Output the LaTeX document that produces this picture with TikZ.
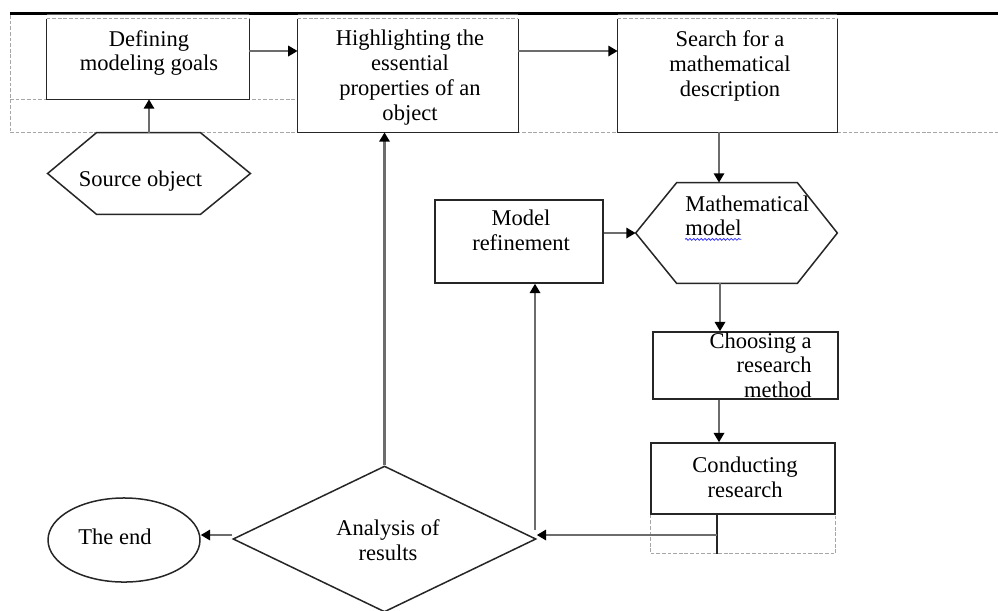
\documentclass[tikz,border=0pt]{standalone}
\usepackage{fontspec}
\setmainfont{Liberation Serif}
\usetikzlibrary{positioning, arrows.meta, shapes.geometric, calc, decorations.pathmorphing}

\begin{document}
\begin{tikzpicture}
    [
        x=0.533pt, y=-0.533pt,
        cell_node/.style={rectangle, inner sep=0pt},
        box_node/.style={rectangle, draw=black!85, line width=0.8pt, inner sep=0pt},
        text_node/.style={inner sep=0pt, align=center, font=\fontsize{12}{13.3}\selectfont},
        link_line/.style={-{Triangle[black, length=5pt, width=5.5pt]}, draw=gray!85!black, line width=1.2pt},
        grid_line/.style={draw=gray!70, line width=0.5pt, dash pattern=on 2pt off 1pt},
        edge_line/.style={draw=black!85, line width=0.8pt},
    ]
        \path[use as bounding box, fill=white] (0,0) rectangle (998,610);

        \node[cell_node, minimum width=107.7pt, minimum height=42.6pt] (def) at (148,59) {};
        \node[cell_node, minimum width=117.3pt, minimum height=60.2pt] (hil) at (408,75.5) {};
        \node[cell_node, minimum width=116.7pt, minimum height=60.2pt] (sea) at (727.5,75.5) {};
        \node[cell_node, minimum width=107.7pt, minimum height=43.2pt] (src) at (149,173.5) {};
        \node[cell_node, minimum width=107.1pt, minimum height=53.3pt] (mm) at (736.5,233) {};
        \node[box_node, minimum width=89.5pt, minimum height=44.2pt] (ref) at (519,241.5) {};
        \node[box_node, minimum width=98.6pt, minimum height=35.7pt] (cho) at (745.5,365.5) {};
        \node[box_node, minimum width=98.1pt, minimum height=37.8pt] (con) at (743,478.5) {};
        \node[box_node, diamond, minimum width=161.5pt, minimum height=77.8pt] (ana) at (384.5,539) {};
        \node[box_node, ellipse, minimum width=81pt, minimum height=44.8pt] (stop) at (124,540) {};

        \draw[grid_line] (10,15) -- (10,132);
        \draw[grid_line] (10,99) -- (hil.west |- 0,99);
        \draw[grid_line] (10,132) -- (998,132);
        \draw[grid_line] (con.south west) -- ++(0,39) -| (con.south east);

        \draw[line width=0.6pt] (10,13) -- (998,13);
        \foreach \xa/\xb in {10/47, 249/298, 518/618, 837/998}
            \draw[line width=1.6pt] (\xa,13) -- (\xb,13);

        \foreach \b in {def, hil, sea} {
            \draw[grid_line] (\b.north west) -- (\b.north east);
            \draw[edge_line] (\b.north west) |- (\b.south east) -- (\b.north east);
            \draw[line width=0.5pt, draw=gray!70!black] ($(\b.north west)+(0,-4)$) -- ($(\b.north east)+(0,-4)$);
        }
        \draw[edge_line] (src.west) -- ($(src.north west)+(49,0)$) -- ($(src.north east)+(-50,0)$) -- (src.east) -- ($(src.south east)+(-50,0)$) -- ($(src.south west)+(49,0)$) -- cycle;
        \draw[edge_line] (mm.west) -- ($(mm.north west)+(41,0)$) -- ($(mm.north east)+(-40,0)$) -- (mm.east) -- ($(mm.south east)+(-40,0)$) -- ($(mm.south west)+(41,0)$) -- cycle;

        \node[text_node] (defT) at (149,53) {Defining\\modeling goals};
        \node[text_node] (hilT) at (410,77.5) {Highlighting the\\essential\\properties of an\\object};
        \node[text_node] (seaT) at (730,66) {Search for a\\mathematical\\description};
        \node[text_node] (srcT) at (140.5,181) {Source object};
        \node[text_node, align=left, anchor=north west] (mmT) at (685,195) {Mathematical\\model};
        \node[text_node] (refT) at (521,230.5) {Model\\refinement};
        \node[text_node, align=right, anchor=north east] (choT) at (812,332) {Choosing a\\research\\method};
        \node[text_node] (conT) at (745,477) {Conducting\\research};
        \node[text_node] (anaT) at (388,540) {Analysis of\\results};
        \node[text_node] (stopT) at (115,537) {The end};
        \draw[blue!80, line width=0.4pt, decorate, decoration={snake, amplitude=0.5pt, segment length=2pt}] ([yshift=-1.5pt]mmT.south west) -- ++(30pt,0);

        \draw[link_line] (src.north) -- (src.north |- def.south);
        \draw[link_line] (def.east |- 0,51) -- (hil.west |- 0,51);
        \draw[link_line] (hil.east |- 0,51) -- (sea.west |- 0,51);
        \draw[link_line] (sea.south -| 719,0) -- (mm.north -| 719,0);
        \draw[link_line] (ref.east |- mm.west) -- (mm.west);
        \draw[link_line] (mm.south -| 720,0) -- (cho.north -| 720,0);
        \draw[link_line] (cho.south -| 719,0) -- (con.north -| 719,0);
        \coordinate (split) at (717,535);
        \draw[edge_line, line width=0.6pt] (con.south -| split) -- ++(0,39);
        \draw[link_line] (split) -- (split -| ana.east);
        \coordinate (rise) at (535,530);
        \draw[link_line] (rise) -- (rise |- ref.south);
        \draw[link_line] (ana.north) -- (ana.north |- hil.south);
        \draw[link_line] (ana.west |- 0,535) -- (stop.east |- 0,535);
    \end{tikzpicture}
\end{document}
